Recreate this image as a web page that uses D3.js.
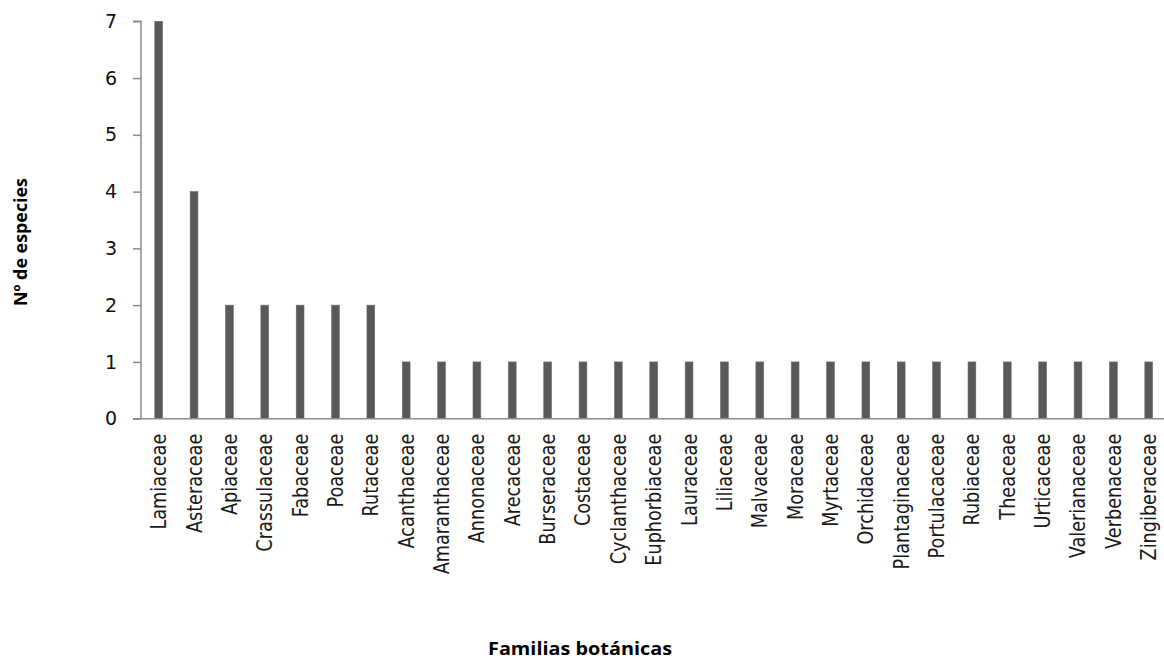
<!DOCTYPE html>
<html>
<head>
<meta charset="utf-8">
<script src="https://cdn.jsdelivr.net/npm/d3@7"></script>
<style>
html,body{margin:0;padding:0;background:#fff;}
svg{display:block;}
</style>
</head>
<body>
<svg id="chart" width="1164" height="659"></svg>
<script>
const categories = ["Lamiaceae","Asteraceae","Apiaceae","Crassulaceae","Fabaceae","Poaceae","Rutaceae",
  "Acanthaceae","Amaranthaceae","Annonaceae","Arecaceae","Burseraceae","Costaceae","Cyclanthaceae",
  "Euphorbiaceae","Lauraceae","Liliaceae","Malvaceae","Moraceae","Myrtaceae","Orchidaceae",
  "Plantaginaceae","Portulacaceae","Rubiaceae","Theaceae","Urticaceae","Valerianaceae","Verbenaceae","Zingiberaceae"];
const values = [7,4,2,2,2,2,2,1,1,1,1,1,1,1,1,1,1,1,1,1,1,1,1,1,1,1,1,1,1];
const yTicks = [0,1,2,3,4,5,6,7];
const xTitle = "Familias botánicas";
const yTitle = "Nº de especies";

const svg = d3.select("#chart");
const x0 = 141, x1 = 1166.4, yTop = 21.3, yBot = 418.7;

const x = d3.scaleBand().domain(categories).range([x0, x1]).paddingInner(0).paddingOuter(0);
const y = d3.scaleLinear().domain([0, 7]).range([yBot, yTop]);
const barW = x.bandwidth() * 0.22;

// bars
svg.append("g").selectAll("rect").data(values).join("rect")
  .attr("x", (d,i) => x(categories[i]) + x.bandwidth()/2 - barW/2)
  .attr("y", d => y(d))
  .attr("width", barW)
  .attr("height", d => y(0) - y(d))
  .attr("fill", "#595959")
  .attr("stroke", "#6a6a6a")
  .attr("stroke-width", 0.6);

// y axis
const yAxis = svg.append("g").attr("transform", `translate(${x0},0)`)
  .call(d3.axisLeft(y).tickValues(yTicks).tickFormat(d3.format("d")).tickSize(8).tickPadding(16));
yAxis.select(".domain").attr("stroke", "#8c8c8c").attr("stroke-width", 1.5).attr("d", `M-8,${yTop}H0V${yBot}`);
yAxis.selectAll(".tick line").attr("stroke", "#8c8c8c").attr("stroke-width", 1.5);
yAxis.selectAll(".tick text").attr("font-family", "DejaVu Sans").attr("font-size", 19).attr("fill", "#111");

// x axis
const xAxis = svg.append("g").attr("transform", `translate(0,${yBot})`)
  .call(d3.axisBottom(x).tickSize(0).tickPadding(0));
xAxis.select(".domain").attr("stroke", "#8c8c8c").attr("stroke-width", 1.5).attr("d", `M${x0-8},0H${x1}`);
xAxis.selectAll(".tick text")
  .attr("font-family", "DejaVu Sans").attr("font-size", 19).attr("fill", "#1a1a1a")
  .attr("text-anchor", "end")
  .attr("y", null)
  .attr("transform", "translate(0,15) rotate(-90) scale(0.93,1.12)")
  .attr("dy", "0.35em");

// titles
svg.append("text")
  .attr("x", 580).attr("y", 655)
  .attr("text-anchor", "middle")
  .attr("font-family", "Open Sans").attr("font-weight", "bold").attr("font-size", 17)
  .attr("textLength", 184).attr("lengthAdjust", "spacingAndGlyphs")
  .attr("fill", "#000")
  .text(xTitle);

svg.append("text")
  .attr("transform", "translate(27,242) rotate(-90)")
  .attr("text-anchor", "middle")
  .attr("font-family", "Open Sans").attr("font-weight", "bold").attr("font-size", 17)
  .attr("textLength", 128).attr("lengthAdjust", "spacingAndGlyphs")
  .attr("fill", "#000")
  .text(yTitle);
</script>
</body>
</html>
